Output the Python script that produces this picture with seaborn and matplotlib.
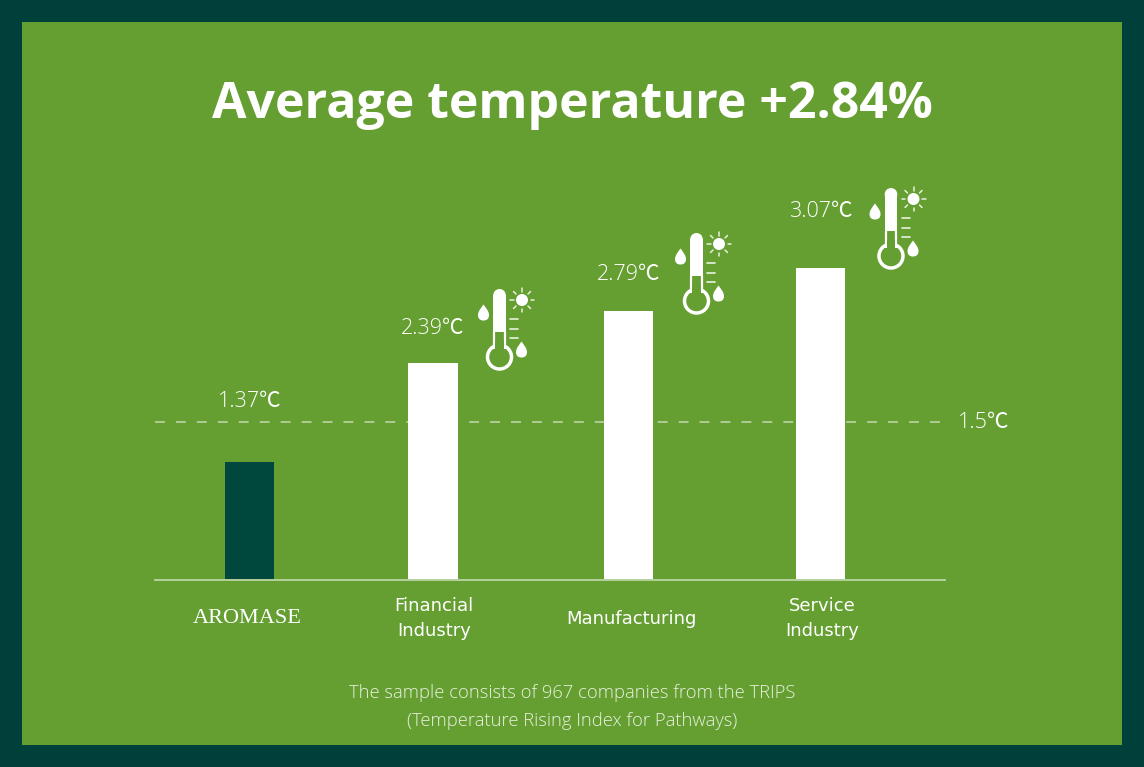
import numpy as np
import pandas as pd
import matplotlib
matplotlib.use('Agg')
import matplotlib.pyplot as plt
from matplotlib.patches import Circle, Rectangle, PathPatch
from matplotlib.path import Path
import seaborn as sns

#Chart data. The bars in the picture are not to scale with their labels, so heights are read off the bars
categories = ['AROMASE', 'Financial\nIndustry', 'Manufacturing', 'Service\nIndustry']
bar_heights = [1.18, 2.17, 2.69, 3.12]
value_labels = ['1.37℃', '2.39℃', '2.79℃', '3.07℃']
limit_height = 1.58
limit_label = '1.5℃'
title = 'Average temperature +2.84%'
footnote = 'The sample consists of 967 companies from the TRIPS\n(Temperature Rising Index for Pathways)'

#Layout, pixels of the picture
bar_centers = [249.5, 433, 628.5, 820.5]
label_centers = [247, 434, 631, 822]
label_offsets = [43.5, 24.5, 26, 41]
icon_shifts = [(0, 0), (197, -56), (391.5, -101)]

DARK = '#00403a'
BAR_DARK = '#00473e'
GREEN = '#659f32'
PALE = '#b5d09c'
FOOT = '#e9f1df'
FONTS = ['Open Sans', 'Noto Sans CJK SC', 'DejaVu Sans']

sns.set_theme(style='white')
plt.rcParams['font.family'] = FONTS

fig = plt.figure(figsize=(11.44, 7.67), dpi=100, facecolor=DARK)

#Background layer in pixel coordinates
bg = fig.add_axes([0, 0, 1, 1])
bg.set_xlim(0, 1144)
bg.set_ylim(767, 0)
bg.axis('off')
bg.add_patch(Rectangle((22, 22), 1100, 723, fc=GREEN, ec='none'))


def drop(cx, top, w=11, h=16):
    r = w / 2
    cy = top + h - r
    verts = [(cx, top), (cx + r * 0.4, top + h * 0.2), (cx + r, cy - r * 0.7), (cx + r, cy),
             (cx + r, cy + r * 0.75), (cx + r * 0.55, cy + r), (cx, cy + r),
             (cx - r * 0.55, cy + r), (cx - r, cy + r * 0.75), (cx - r, cy),
             (cx - r, cy - r * 0.7), (cx - r * 0.4, top + h * 0.2), (cx, top), (cx, top)]
    codes = [Path.MOVETO] + [Path.CURVE4] * 12 + [Path.CLOSEPOLY]
    bg.add_patch(PathPatch(Path(verts, codes), fc='white', ec='none'))


def thermometer(dx, dy):
    tx = 499.5 + dx
    top = 289 + dy
    #tube, filled part
    bg.add_patch(Circle((tx, top + 6.3), 6.3, fc='white', ec='none'))
    bg.add_patch(Rectangle((tx - 6.3, top + 6.3), 12.6, 37, fc='white', ec='none'))
    #tube, empty part
    bg.plot([tx - 5.4, tx - 5.4], [top + 43, top + 60], color='white', lw=1.6, solid_capstyle='butt')
    bg.plot([tx + 5.4, tx + 5.4], [top + 43, top + 60], color='white', lw=1.6, solid_capstyle='butt')
    #bulb
    bg.add_patch(Circle((tx, top + 68), 12, fc=GREEN, ec='white', lw=2.5))
    #cover the ring where the tube enters the bulb
    bg.add_patch(Rectangle((tx - 4.3, top + 52), 8.6, 8, fc=GREEN, ec='none', zorder=3))
    #scale marks
    for y in [319, 328.5, 338]:
        bg.plot([510 + dx, 518 + dx], [y + dy, y + dy], color=FOOT, lw=1.2)
    #sun
    sx, sy = 522 + dx, 300 + dy
    bg.add_patch(Circle((sx, sy), 6, fc='white', ec='none'))
    for a in np.arange(0, 360, 45):
        c, s = np.cos(np.radians(a)), np.sin(np.radians(a))
        bg.plot([sx + 8.5 * c, sx + 12 * c], [sy + 8.5 * s, sy + 12 * s], color=FOOT, lw=1.1)
    drop(483.5 + dx, 304.5 + dy)
    drop(521.5 + dx, 341.5 + dy)


for dx, dy in icon_shifts:
    thermometer(dx, dy)

bg.text(572, 105, title, ha='center', va='center', color='white', fontsize=36, fontweight='bold')
bg.text(572, 707, footnote, ha='center', va='center', color=FOOT, fontsize=13.2,
        fontweight='light', linespacing=1.75, multialignment='center')
bg.text(984, 423, limit_label, ha='center', va='center', color='white', fontsize=15.5, fontweight=200)

#Bars
ax = fig.add_axes([155 / 1144, (767 - 580) / 767, 790 / 1144, 420 / 767])
ax.patch.set_alpha(0)
df = pd.DataFrame({'x': bar_centers, 'height': bar_heights, 'category': categories})
sns.barplot(data=df, x='x', y='height', hue='category', palette=[BAR_DARK, 'white', 'white', 'white'],
            native_scale=True, dodge=False, legend=False, width=49 / 183, saturation=1, ax=ax, zorder=3,
            linewidth=0)
ax.set_xlim(155, 945)
ax.set_ylim(0, 4.2)
ax.axhline(limit_height, color=PALE, lw=1.3, dashes=(5.5, 6.1), zorder=1)

ax.set_xlabel('')
ax.set_ylabel('')
ax.set_yticks([])
ax.set_xticks(label_centers, categories)
ax.tick_params(axis='x', length=0, pad=28, colors='white', labelsize=13)
for label in ax.get_xticklabels():
    label.set_va('center')
    label.set_family(['DejaVu Sans'])
    label.set_linespacing(1.5)
logo = ax.get_xticklabels()[0]
logo.set_family(['Liberation Serif'])
logo.set_fontsize(16)

for spine in ['top', 'left', 'right']:
    ax.spines[spine].set_visible(False)
ax.spines['bottom'].set_color(PALE)
ax.spines['bottom'].set_linewidth(1.4)
ax.spines['bottom'].set_zorder(4)

#Value labels above the bars
for x, h, text, off in zip(bar_centers, bar_heights, value_labels, label_offsets):
    ax.annotate(text, xy=(x, h), xytext=(0, off), textcoords='offset points', ha='center', va='center',
                color='white', fontsize=15.5, fontweight=200, annotation_clip=False)

fig.savefig('out.png', dpi=100, facecolor=DARK)
